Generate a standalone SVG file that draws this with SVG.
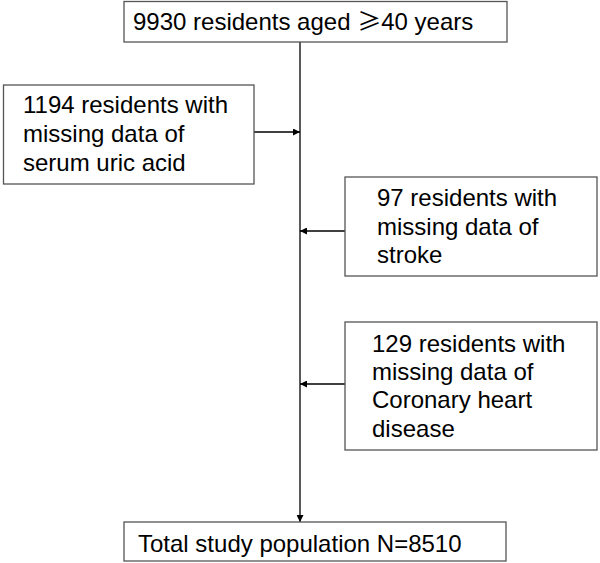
<svg xmlns="http://www.w3.org/2000/svg" width="600" height="563" viewBox="0 0 600 563">
<style>
.box{fill:#fff;stroke:#555;stroke-width:1.3}
.t{font-family:"Liberation Sans",Arial,"Noto Sans CJK SC",sans-serif;font-size:24px;fill:#000}
.c{stroke:#000;stroke-width:1.3;fill:none}
</style>
<defs>
<marker id="ah" viewBox="0 0 10 10" refX="10" refY="5" markerWidth="8" markerHeight="7" markerUnits="userSpaceOnUse" orient="auto">
<path d="M0,0 L10,5 L0,10 Z" fill="#000"/>
</marker>
</defs>
<rect width="600" height="563" fill="#fff"/>
<g id="connectors">
<line class="c" x1="300" y1="42" x2="300" y2="522" marker-end="url(#ah)"/>
<line class="c" x1="254" y1="132" x2="300" y2="132" marker-end="url(#ah)"/>
<line class="c" x1="345" y1="231" x2="300" y2="231" marker-end="url(#ah)"/>
<line class="c" x1="345" y1="384" x2="300" y2="384" marker-end="url(#ah)"/>
</g>
<g id="start">
<rect class="box" x="124" y="1.5" width="383" height="40.5"/>
<text class="t" x="133" y="30">9930 residents aged <tspan font-family="'Noto Sans CJK SC',sans-serif">≥</tspan>40 years</text>
</g>
<g id="excl1">
<rect class="box" x="3.5" y="85" width="250.5" height="99"/>
<text class="t" x="23" y="113">1194 residents with</text>
<text class="t" x="23" y="142">missing data of</text>
<text class="t" x="23" y="171">serum uric acid</text>
</g>
<g id="excl2">
<rect class="box" x="345" y="177" width="252" height="99"/>
<text class="t" x="377" y="206">97 residents with</text>
<text class="t" x="377" y="235">missing data of</text>
<text class="t" x="377" y="263">stroke</text>
</g>
<g id="excl3">
<rect class="box" x="345" y="322" width="252" height="128"/>
<text class="t" x="372" y="352">129 residents with</text>
<text class="t" x="372" y="380">missing data of</text>
<text class="t" x="372" y="408">Coronary heart</text>
<text class="t" x="372" y="437">disease</text>
</g>
<g id="final">
<rect class="box" x="124" y="522" width="382" height="39"/>
<text class="t" x="138" y="552">Total study population N=8510</text>
</g>
</svg>
